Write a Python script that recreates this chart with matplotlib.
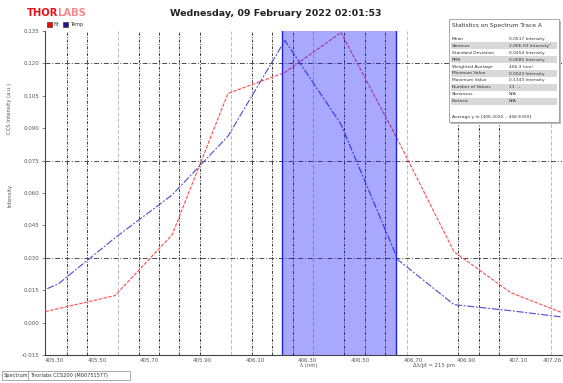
import matplotlib
matplotlib.use("Agg")
import matplotlib.pyplot as plt
from matplotlib.patches import Rectangle

# ---------------- data ----------------
wavelength = [405.139, 405.354, 405.568, 405.785, 405.997, 406.213,
              406.426, 406.642, 406.855, 407.071, 407.284]
fit_vals = [0.0005, 0.0065, 0.0125, 0.0406, 0.1061, 0.1158,
            0.1343, 0.0845, 0.0328, 0.0138, 0.0037]
temp_vals = [0.0065, 0.0180, 0.0392, 0.0591, 0.0863, 0.1306,
             0.0918, 0.0291, 0.0083, 0.0055, 0.0023]

x_ticks = [405.3027, 405.50, 405.70, 405.90, 406.10, 406.30, 406.50,
           406.70, 406.90, 407.10, 407.2647]
x_labels = ["405.30", "405.50", "405.70", "405.90", "406.10", "406.30",
            "406.50", "406.70", "406.90", "407.10", "407.26"]
y_ticks = [-0.015, 0.000, 0.015, 0.030, 0.045, 0.060, 0.075, 0.090,
           0.105, 0.120, 0.135]
y_labels = ["-0.015", "0.000", "0.015", "0.030", "0.045", "0.060",
            "0.075", "0.090", "0.105", "0.120", "0.135"]

h_levels = [0.120, 0.075, 0.030]
marker_dark = [405.385, 405.461, 405.659, 405.735, 405.811, 405.891,
               406.088, 406.164, 406.244, 406.437, 406.517, 406.593,
               406.870, 406.950, 407.026]
marker_light = [405.580, 406.009, 406.320, 406.676, 407.223]
span = [406.202, 406.635]

stat_names = ["Mean", "Variance", "Standard Deviation", "RMS",
              "Weighted Average", "Minimum Value", "Maximum Value",
              "Number of Values", "Skewness", "Kurtosis"]
stat_values = ["0.0517 Intensity", "2.06E-03 Intensity\u00b2",
               "0.0454 Intensity", "0.0685 Intensity", "406.3 (nm)",
               "0.0023 Intensity", "0.1343 Intensity", "11  --",
               "N/A", "N/A"]

title = "Wednesday, 09 February 2022 02:01:53"

# ---------------- figure ----------------
W, H = 563, 383
fig = plt.figure(figsize=(W / 100, H / 100), dpi=100)
fig.patch.set_facecolor("white")

ax = fig.add_axes([45 / W, (H - 355) / H, (562 - 45) / W, (355 - 31) / H])
ax.set_xlim(x_ticks[0], x_ticks[-1])
ax.set_ylim(-0.015, 0.135)

for xv in marker_light:
    ax.axvline(xv, color="#bdbdbd", lw=0.7, ls=(0, (4, 2)), zorder=1)
for xv in marker_dark:
    ax.axvline(xv, color="#3a3a3a", lw=0.7, ls=(0, (3, 1.5, 1, 1.5)), zorder=1)
for yv in h_levels:
    ax.axhline(yv, color="#4a4a4a", lw=0.7, ls=(0, (5, 2, 1, 2)), zorder=1)

ax.plot(wavelength, fit_vals, color="#ff5555", lw=0.85, ls=(0, (3, 1.2)), zorder=3)
ax.plot(wavelength, temp_vals, color="#5555d5", lw=0.85,
        ls=(0, (6, 1.5, 1.5, 1.5)), zorder=3)

ax.axvspan(span[0], span[1], color="#0000ff", alpha=0.34, lw=0, zorder=4)
ax.axvline(span[0], color="#2020e0", lw=1.0, zorder=5)
ax.axvline(span[1], color="#2020e0", lw=1.0, zorder=5)

ax.set_yticks(y_ticks)
ax.set_yticklabels(y_labels)
ax.set_xticks(x_ticks)
ax.set_xticklabels(x_labels)
ax.tick_params(axis="y", labelsize=4, colors="#555555", length=2, width=0.5, pad=2)
ax.tick_params(axis="x", labelsize=4, colors="#555555", length=0, pad=2)
xl = ax.get_xticklabels()
xl[0].set_horizontalalignment("left")
xl[-1].set_horizontalalignment("right")
for s in ["top", "right"]:
    ax.spines[s].set_visible(False)
for s in ["left", "bottom"]:
    ax.spines[s].set_color("#444444")
    ax.spines[s].set_linewidth(0.8)

# ---------------- overlay (pixel coordinates) ----------------
ov = fig.add_axes([0, 0, 1, 1], zorder=10)
ov.set_xlim(0, W)
ov.set_ylim(H, 0)
ov.axis("off")

# logo
ov.text(27, 13, "THOR", color="#e8101a", fontsize=7.2, fontweight="bold",
        va="center", ha="left")
ov.text(57, 13, "LABS", color="#f58a90", fontsize=7.2, fontweight="bold",
        va="center", ha="left")

# title
ov.text(276, 14, title, fontsize=6.8, fontweight="bold", color="#222222",
        ha="center", va="center")

# legend squares
ov.add_patch(Rectangle((47, 22), 5, 5, facecolor="#ff0000", edgecolor="#222222", lw=0.4))
ov.text(54, 24.5, "Fit", fontsize=3.5, va="center", ha="left", color="#333333")
ov.add_patch(Rectangle((63, 22), 5, 5, facecolor="#1a1a8c", edgecolor="#222222", lw=0.4))
ov.text(70, 24.5, "Temp", fontsize=3.5, va="center", ha="left", color="#333333")

# y axis labels
ov.text(10, 108, "CCS Intensity (a.u.)", fontsize=3.8, rotation=90,
        va="center", ha="center", color="#555555")
ov.text(10, 195, "Intensity", fontsize=3.8, rotation=90,
        va="center", ha="center", color="#555555")

# x axis labels
ov.text(300, 366, "\u03bb (nm)", fontsize=3.8, ha="left", va="center", color="#555555")
ov.text(413, 366, "\u0394\u03bb/pt = 215 pm", fontsize=3.8, ha="left",
        va="center", color="#555555")

# statistics box
bx0, bx1, by0, by1 = 449, 559, 19, 122
ov.add_patch(Rectangle((bx0 + 1.5, by0 + 1.5), bx1 - bx0, by1 - by0,
                       facecolor="#bbbbbb", edgecolor="none", zorder=1))
ov.add_patch(Rectangle((bx0, by0), bx1 - bx0, by1 - by0,
                       facecolor="white", edgecolor="#888888", lw=0.5, zorder=2))
ov.text(bx0 + 3, 26, "Statistics on Spectrum Trace A", fontsize=4.2,
        ha="left", va="center", color="#333333", zorder=3)
row_y0, row_h = 39, 6.9
for i, (nm, val) in enumerate(zip(stat_names, stat_values)):
    yc = row_y0 + i * row_h
    if i % 2 == 1:
        ov.add_patch(Rectangle((bx0 + 2, yc - row_h / 2), bx1 - bx0 - 4, row_h,
                               facecolor="#d8d8d8", edgecolor="none", zorder=2.5))
    ov.text(bx0 + 3, yc, nm, fontsize=3.2, ha="left", va="center",
            color="#333333", zorder=3)
    ov.text(bx0 + 60, yc, val, fontsize=3.2, ha="left", va="center",
            color="#333333", zorder=3)
ov.text(bx0 + 3, 117, "Average y in [406.2020 .. 406.6350]", fontsize=3.2,
        ha="left", va="center", color="#333333", zorder=3)

# footer box
ov.add_patch(Rectangle((2, 371), 128, 9, facecolor="white", edgecolor="#888888", lw=0.5))
ov.plot([28, 28], [371, 380], color="#888888", lw=0.5)
ov.text(4, 375.5, "Spectrum", fontsize=3.6, ha="left", va="center", color="#333333")
ov.text(30, 375.5, "Thorlabs CCS200 (M00751577)", fontsize=3.6, ha="left",
        va="center", color="#333333")

fig.savefig("out.png", dpi=100)
